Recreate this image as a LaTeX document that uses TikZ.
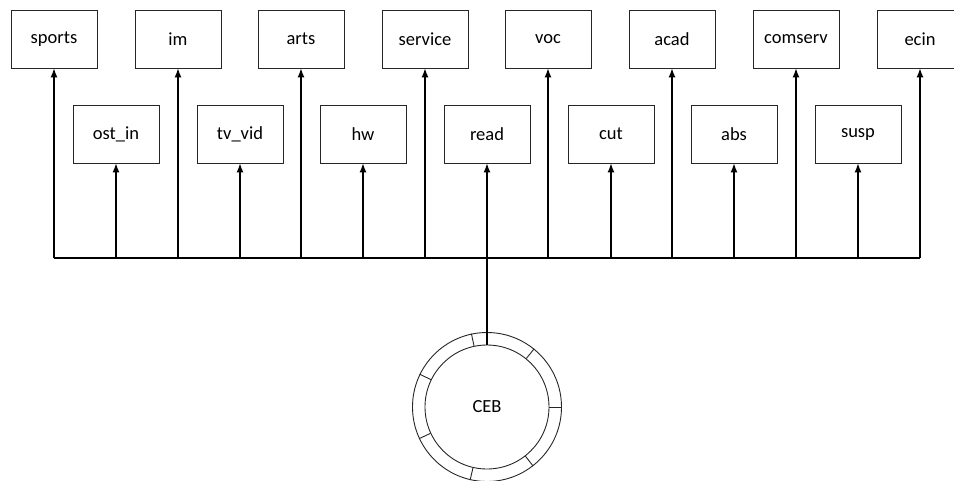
\documentclass[tikz,border=0pt]{standalone}
\usepackage{fontspec}
\setmainfont{Carlito}
\usetikzlibrary{arrows.meta}
\begin{document}
\begin{tikzpicture}[x=1pt,y=-1pt,
  box/.style={draw=black!85,line width=0.9pt,minimum width=86pt,minimum height=58pt,inner sep=0pt,font=\fontsize{18.5}{22}\selectfont},
  arr/.style={line width=1.2pt,-{Latex[length=9pt,width=7pt]}},
  bus/.style={line width=1.4pt}]
\useasboundingbox (0,0) rectangle (954,480);
% top row
\node[box] (sports) at (54,39) {sports};
\node[box] (im) at (178,39) {im};
\node[box] (arts) at (301,39) {arts};
\node[box] (service) at (425,39) {service};
\node[box] (voc) at (548,39) {voc};
\node[box] (acad) at (672,39) {acad};
\node[box] (comserv) at (796,39) {comserv};
\node[box] (ecin) at (920,39) {ecin};
% second row
\node[box] (ostin) at (116,134) {ost\_in};
\node[box] (tvvid) at (240,134) {tv\_vid};
\node[box] (hw) at (363,134) {hw};
\node[box] (read) at (487,134) {read};
\node[box] (cut) at (611,134) {cut};
\node[box] (abs) at (734,134) {abs};
\node[box] (susp) at (858,134) {susp};
% bus
\coordinate (busL) at (54,258);
\coordinate (busR) at (920,258);
\draw[bus] (busL) -- (busR);
\foreach \n in {sports,im,arts,service,voc,acad,comserv,ecin,ostin,tvvid,hw,read,cut,abs,susp}{
  \draw[arr] (\n.south |- busL) -- (\n.south);
}
% latent variable
\node[circle,draw=black!85,line width=0.9pt,minimum size=149pt,inner sep=0pt] (ceb) at (487,407) {};
\node[circle,draw=black!85,line width=0.9pt,minimum size=124pt,inner sep=0pt,font=\fontsize{18.5}{22}\selectfont] (cebin) at (487,407) {CEB};
\foreach \a in {0,1,...,6}{
  \draw[black!85,line width=0.9pt] (cebin.{\a*360/7}) -- (ceb.{\a*360/7});
}
\draw[line width=1.2pt] (busL -| cebin.north) -- (cebin.north);
\end{tikzpicture}
\end{document}
